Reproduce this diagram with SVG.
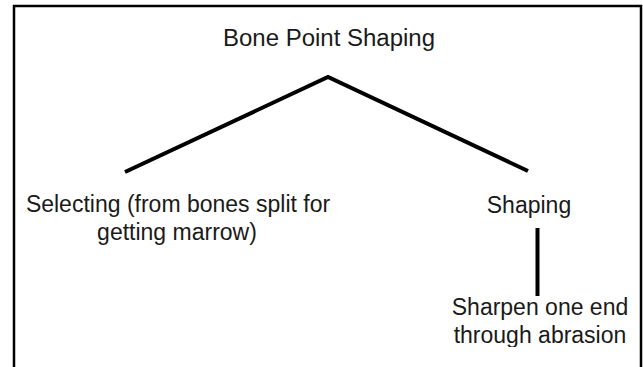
<svg xmlns="http://www.w3.org/2000/svg" width="643" height="367" viewBox="0 0 643 367">
<style>
text { font-family: "Liberation Sans", Arial, sans-serif; font-size: 23px; fill: #1a1a1a; text-anchor: middle; }
.edge { stroke: #000; stroke-width: 4; fill: none; }
.frame { stroke: #000; stroke-width: 2.5; fill: none; }
</style>
<defs>
<clipPath id="cut"><rect x="0" y="0" width="643" height="347"/></clipPath>
</defs>
<rect width="643" height="367" fill="#fff"/>
<path class="frame" d="M14,367 V6 H641 V367"/>
<g id="connectors">
<polyline class="edge" points="125,172 328,77 528,171"/>
<line class="edge" x1="537.5" y1="228" x2="537.5" y2="296"/>
</g>
<g id="root"><text x="329" y="46" textLength="212" lengthAdjust="spacingAndGlyphs">Bone Point Shaping</text></g>
<g id="selecting">
<text x="178" y="212">Selecting (from bones split for</text>
<text x="177" y="240">getting marrow)</text>
</g>
<g id="shaping"><text x="529" y="213">Shaping</text></g>
<g id="sharpen" clip-path="url(#cut)">
<text x="540" y="315">Sharpen one end</text>
<text x="540" y="343">through abrasion</text>
</g>
</svg>
